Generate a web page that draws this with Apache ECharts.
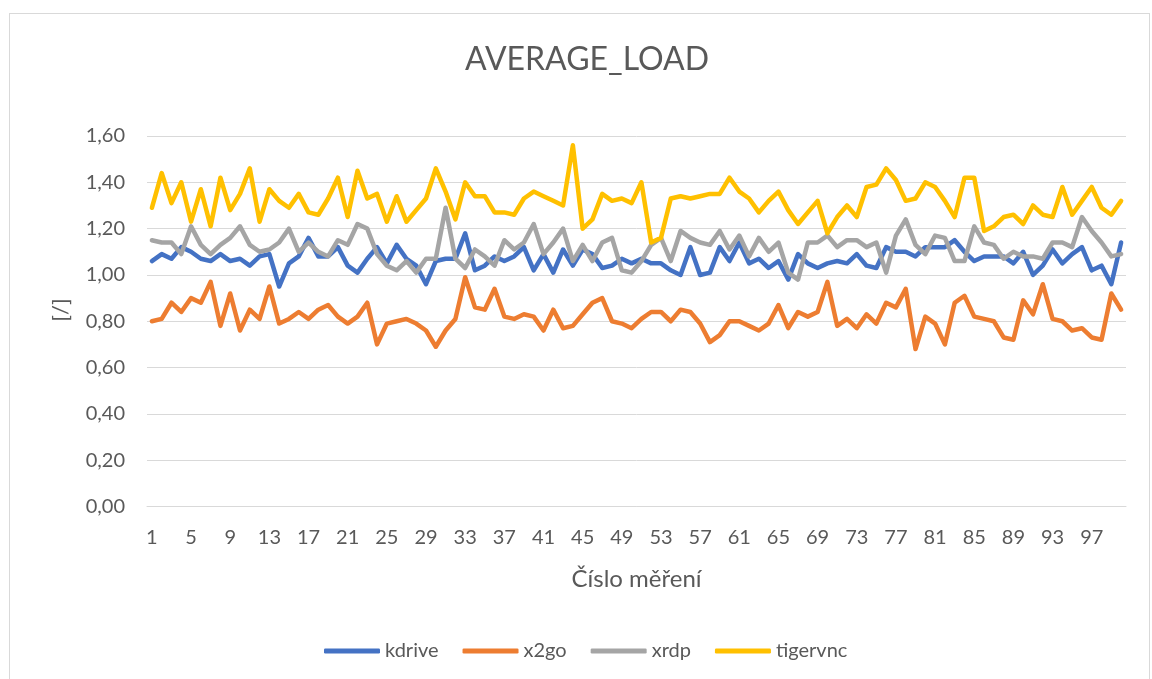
<!DOCTYPE html>
<html>
<head>
<meta charset="utf-8">
<title>AVERAGE_LOAD</title>
<script src="https://cdn.jsdelivr.net/npm/echarts@6/dist/echarts.min.js"></script>
<style>
  html, body { margin: 0; padding: 0; background: #fff; }
  #frame {
    position: absolute; left: 9px; top: 13px;
    width: 1141px; height: 700px;
    border: 1px solid #d9d9d9; box-sizing: border-box;
  }
  #chart { position: absolute; left: 0; top: 0; width: 1152px; height: 679px; }
</style>
</head>
<body>
<div id="frame"></div>
<div id="chart"></div>
<script>
  // cislo mereni 1..100
  var categories = [
    '1','2','3','4','5','6','7','8','9','10','11','12','13','14','15','16','17','18','19','20',
    '21','22','23','24','25','26','27','28','29','30','31','32','33','34','35','36','37','38','39','40',
    '41','42','43','44','45','46','47','48','49','50','51','52','53','54','55','56','57','58','59','60',
    '61','62','63','64','65','66','67','68','69','70','71','72','73','74','75','76','77','78','79','80',
    '81','82','83','84','85','86','87','88','89','90','91','92','93','94','95','96','97','98','99','100'
  ]

  var kdrive = [
    1.06, 1.09, 1.07, 1.12, 1.10, 1.07, 1.06, 1.09, 1.06, 1.07,
    1.04, 1.08, 1.09, 0.95, 1.05, 1.08, 1.16, 1.08, 1.08, 1.12,
    1.04, 1.01, 1.07, 1.12, 1.05, 1.13, 1.07, 1.04, 0.96, 1.06,
    1.07, 1.07, 1.18, 1.02, 1.04, 1.08, 1.06, 1.08, 1.12, 1.02,
    1.09, 1.01, 1.11, 1.04, 1.11, 1.09, 1.03, 1.04, 1.07, 1.05,
    1.07, 1.05, 1.05, 1.02, 1.00, 1.12, 1.00, 1.01, 1.12, 1.06,
    1.14, 1.05, 1.07, 1.03, 1.06, 0.98, 1.09, 1.05, 1.03, 1.05,
    1.06, 1.05, 1.09, 1.04, 1.03, 1.12, 1.10, 1.10, 1.08, 1.12,
    1.12, 1.12, 1.15, 1.10, 1.06, 1.08, 1.08, 1.08, 1.05, 1.10,
    1.00, 1.04, 1.11, 1.05, 1.09, 1.12, 1.02, 1.04, 0.96, 1.14
  ]

  var x2go = [
    0.80, 0.81, 0.88, 0.84, 0.90, 0.88, 0.97, 0.78, 0.92, 0.76,
    0.85, 0.81, 0.95, 0.79, 0.81, 0.84, 0.81, 0.85, 0.87, 0.82,
    0.79, 0.82, 0.88, 0.70, 0.79, 0.80, 0.81, 0.79, 0.76, 0.69,
    0.76, 0.81, 0.99, 0.86, 0.85, 0.94, 0.82, 0.81, 0.83, 0.82,
    0.76, 0.85, 0.77, 0.78, 0.83, 0.88, 0.90, 0.80, 0.79, 0.77,
    0.81, 0.84, 0.84, 0.80, 0.85, 0.84, 0.79, 0.71, 0.74, 0.80,
    0.80, 0.78, 0.76, 0.79, 0.87, 0.77, 0.84, 0.82, 0.84, 0.97,
    0.78, 0.81, 0.77, 0.83, 0.79, 0.88, 0.86, 0.94, 0.68, 0.82,
    0.79, 0.70, 0.88, 0.91, 0.82, 0.81, 0.80, 0.73, 0.72, 0.89,
    0.83, 0.96, 0.81, 0.80, 0.76, 0.77, 0.73, 0.72, 0.92, 0.85
  ]

  var xrdp = [
    1.15, 1.14, 1.14, 1.09, 1.21, 1.13, 1.09, 1.13, 1.16, 1.21,
    1.13, 1.10, 1.11, 1.14, 1.20, 1.10, 1.14, 1.10, 1.08, 1.15,
    1.13, 1.22, 1.20, 1.09, 1.04, 1.02, 1.06, 1.01, 1.07, 1.07,
    1.29, 1.07, 1.03, 1.11, 1.08, 1.04, 1.15, 1.11, 1.14, 1.22,
    1.09, 1.14, 1.20, 1.06, 1.13, 1.06, 1.14, 1.16, 1.02, 1.01,
    1.06, 1.13, 1.16, 1.06, 1.19, 1.16, 1.14, 1.13, 1.19, 1.11,
    1.17, 1.08, 1.16, 1.10, 1.14, 1.01, 0.98, 1.14, 1.14, 1.17,
    1.12, 1.15, 1.15, 1.12, 1.14, 1.01, 1.17, 1.24, 1.13, 1.09,
    1.17, 1.16, 1.06, 1.06, 1.21, 1.14, 1.13, 1.07, 1.10, 1.08,
    1.08, 1.07, 1.14, 1.14, 1.12, 1.25, 1.19, 1.14, 1.08, 1.09
  ]

  var tigervnc = [
    1.29, 1.44, 1.31, 1.40, 1.23, 1.37, 1.21, 1.42, 1.28, 1.35,
    1.46, 1.23, 1.37, 1.32, 1.29, 1.35, 1.27, 1.26, 1.33, 1.42,
    1.25, 1.45, 1.33, 1.35, 1.23, 1.34, 1.23, 1.28, 1.33, 1.46,
    1.36, 1.24, 1.40, 1.34, 1.34, 1.27, 1.27, 1.26, 1.33, 1.36,
    1.34, 1.32, 1.30, 1.56, 1.20, 1.24, 1.35, 1.32, 1.33, 1.31,
    1.40, 1.14, 1.16, 1.33, 1.34, 1.33, 1.34, 1.35, 1.35, 1.42,
    1.36, 1.33, 1.27, 1.32, 1.36, 1.28, 1.22, 1.27, 1.32, 1.18,
    1.25, 1.30, 1.25, 1.38, 1.39, 1.46, 1.41, 1.32, 1.33, 1.40,
    1.38, 1.32, 1.25, 1.42, 1.42, 1.19, 1.21, 1.25, 1.26, 1.22,
    1.30, 1.26, 1.25, 1.38, 1.26, 1.32, 1.38, 1.29, 1.26, 1.32
  ]

  var seriesNames = ['kdrive', 'x2go', 'xrdp', 'tigervnc']
  var seriesData = [kdrive, x2go, xrdp, tigervnc]
  var colors = ['#4472C4', '#ED7D31', '#A5A5A5', '#FFC000']

  var textColor = '#595959'
  var fontFamily = 'Lato, "Open Sans", sans-serif'

  var chart = echarts.init(document.getElementById('chart'))

  var option = {
    animation: false,
    color: colors,
    textStyle: { fontFamily: fontFamily },
    title: {
      text: 'AVERAGE_LOAD',
      left: 582,
      top: 39,
      textAlign: 'center',
      textStyle: { color: textColor, fontSize: 32, fontWeight: 'normal', fontFamily: fontFamily }
    },
    // nazev osy y, otoceny
    graphic: [{
      type: 'text',
      x: 61,
      y: 310,
      rotation: Math.PI / 2,
      style: {
        text: '[/]',
        fill: textColor,
        font: '22px ' + fontFamily,
        align: 'center',
        verticalAlign: 'middle'
      }
    }],
    legend: {
      data: seriesNames,
      left: 319,
      top: 636,
      icon: 'roundRect',
      itemWidth: 56,
      itemHeight: 5,
      itemGap: 24,
      textStyle: { color: textColor, fontSize: 20, fontFamily: fontFamily }
    },
    grid: { left: 147, right: 26, top: 136, bottom: 172.5, containLabel: false },
    xAxis: {
      type: 'category',
      data: categories,
      boundaryGap: true,
      name: 'Číslo měření',
      nameLocation: 'middle',
      nameGap: 61,
      nameTextStyle: { color: textColor, fontSize: 24, fontFamily: fontFamily },
      axisLine: { show: true, lineStyle: { color: '#d9d9d9', width: 1 } },
      axisTick: { show: false },
      axisLabel: { interval: 3, color: textColor, fontSize: 20, margin: 21, fontFamily: fontFamily }
    },
    yAxis: {
      type: 'value',
      min: 0,
      max: 1.6,
      interval: 0.2,
      axisLine: { show: false },
      axisTick: { show: false },
      splitLine: { lineStyle: { color: '#d9d9d9', width: 1 } },
      axisLabel: {
        color: textColor, fontSize: 20, margin: 22, fontFamily: fontFamily,
        formatter: function (v) { return v.toFixed(2).replace('.', ',') }
      }
    },
    series: seriesNames.map(function (name, i) {
      return {
        name: name,
        type: 'line',
        data: seriesData[i],
        symbol: 'none',
        lineStyle: { width: 4.5, color: colors[i], cap: 'round', join: 'round' },
        itemStyle: { color: colors[i] }
      }
    })
  }

  chart.setOption(option)
</script>
</body>
</html>
